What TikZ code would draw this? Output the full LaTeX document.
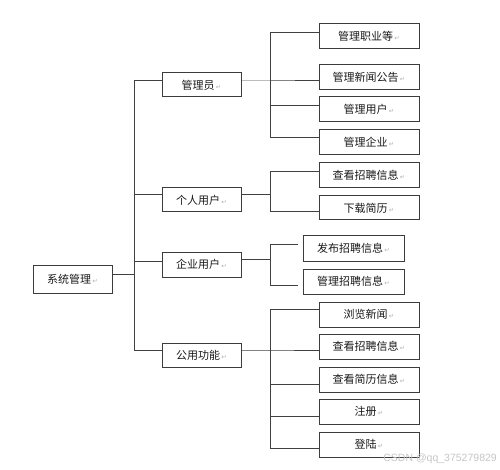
\documentclass[tikz,border=0pt]{standalone}
\usepackage{fontspec}
\setmainfont{Noto Sans CJK SC}
\newfontfamily\retfont{DejaVu Sans}
\newfontfamily\wmfont{Liberation Sans}
\newcommand\retmark{{\retfont\fontsize{6.5}{6.5}\selectfont\color{gray!60}\,↵}}
\definecolor{boxline}{RGB}{60,60,60}
\definecolor{conline}{RGB}{65,65,65}
\definecolor{txt}{RGB}{25,25,25}
\tikzset{
  box/.style={draw=boxline, line width=1pt, rectangle, inner sep=0pt, text=txt,
    font=\fontsize{11}{12}\selectfont},
  lonebox/.style={box, minimum width=79pt, minimum height=24pt},
  leafbox/.style={box, minimum width=100pt, minimum height=25pt},
  con/.style={draw=conline, line width=1pt},
}
\begin{document}
\begin{tikzpicture}[x=1pt,y=-1pt]
\useasboundingbox (0,0) rectangle (500,470);
% root
\node[box, minimum width=79pt, minimum height=28pt] (r) at (72.5,279) {系统管理\retmark};
% level 1
\node[lonebox] (a) at (201.5,85) {管理员\retmark};
\node[lonebox] (b) at (201.5,200) {个人用户\retmark};
\node[lonebox, minimum height=25pt] (c) at (201.5,264.5) {企业用户\retmark};
\node[lonebox] (d) at (201.5,355) {公用功能\retmark};
% level 2
\node[leafbox] (a1) at (369,36.5) {管理职业等\retmark};
\node[leafbox] (a2) at (369,77.5) {管理新闻公告\retmark};
\node[leafbox] (a3) at (369,109.5) {管理用户\retmark};
\node[leafbox] (a4) at (369,142.5) {管理企业\retmark};
\node[leafbox] (b1) at (369,175.5) {查看招聘信息\retmark};
\node[leafbox, minimum height=24pt] (b2) at (369,208) {下载简历\retmark};
\node[leafbox, minimum width=101pt] (c1) at (353.5,248.5) {发布招聘信息\retmark};
\node[leafbox, minimum width=101pt] (c2) at (353.5,281.5) {管理招聘信息\retmark};
\node[leafbox] (d1) at (369,314.5) {浏览新闻\retmark};
\node[leafbox] (d2) at (369,346.5) {查看招聘信息\retmark};
\node[leafbox] (d3) at (369,379.5) {查看简历信息\retmark};
\node[leafbox] (d4) at (369,411.5) {注册\retmark};
\node[leafbox] (d5) at (369,444.5) {登陆\retmark};
% junction coordinates
\coordinate (t0) at (134,274);
\coordinate (ta) at (134,81);
\coordinate (tb) at (134,195);
\coordinate (tc) at (134,261);
\coordinate (td) at (134,350);
\coordinate (sa) at (270,81);
\coordinate (sb) at (270,195);
\coordinate (sc) at (270,259);
\coordinate (sd) at (270,350);
\coordinate (ja1) at (270,33);
\coordinate (ja3) at (270,106);
\coordinate (ja4) at (270,138);
\coordinate (jb1) at (270,172);
\coordinate (jb2) at (270,212);
\coordinate (jc1) at (270,244);
\coordinate (jc2) at (270,285);
\coordinate (jd1) at (270,309);
\coordinate (jd3) at (270,384);
\coordinate (jd4) at (270,416);
\coordinate (jd5) at (270,448);
% root to trunk
\draw[con] (t0 -| r.east) -- (t0);
\draw[con] (ta) -- (td);
\draw[con] (ta) -- (ta -| a.west);
\draw[con] (tb) -- (tb -| b.west);
\draw[con] (tc) -- (tc -| c.west);
\draw[con] (td) -- (td -| d.west);
% level 1 to sub-trunks
\draw[con] (sa -| a.east) -- (sa) -- (sa -| a2.west);
\draw[con] (sb -| b.east) -- (sb);
\draw[con] (sc -| c.east) -- (sc);
\draw[con] (sd -| d.east) -- (sd) -- (sd -| d2.west);
% sub-trunks
\draw[con] (ja1) -- (ja4);
\draw[con] (jb1) -- (jb2);
\draw[con] (jc1) -- (jc2);
\draw[con] (jd1) -- (jd5);
% branches
\draw[con] (ja1) -- (ja1 -| a1.west);
\draw[con] (ja3) -- (ja3 -| a3.west);
\draw[con] (ja4) -- (ja4 -| a4.west);
\draw[con] (jb1) -- (jb1 -| b1.west);
\draw[con] (jb2) -- (jb2 -| b2.west);
\draw[con, shorten >=5pt] (jc1) -- (jc1 -| c1.west);
\draw[con, shorten >=5pt] (jc2) -- (jc2 -| c2.west);
\draw[con] (jd1) -- (jd1 -| d1.west);
\draw[con] (jd3) -- (jd3 -| d3.west);
\draw[con] (jd4) -- (jd4 -| d4.west);
\draw[con] (jd5) -- (jd5 -| d5.west);
% watermark
\node[anchor=east, inner sep=0pt, text=gray!45, font=\wmfont\fontsize{10.5}{12}\selectfont] (wm) at (497,459) {CSDN @qq\_375279829};
\end{tikzpicture}
\end{document}
